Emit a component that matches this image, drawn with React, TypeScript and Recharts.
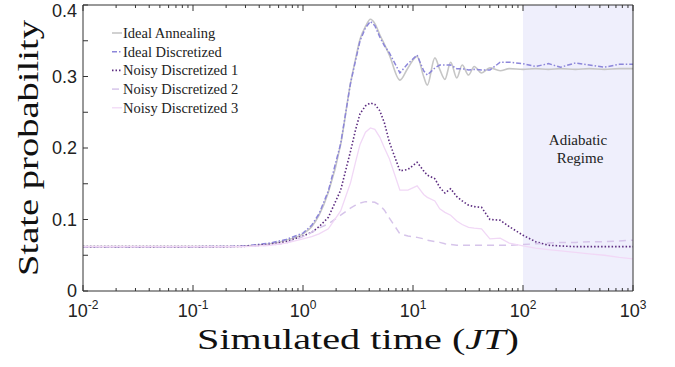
import React from 'react';
import { LineChart, Line, XAxis, YAxis, ReferenceArea, Legend } from 'recharts';

// simulated time JT, log-spaced samples
const times = [
  0.01, 0.02, 0.05, 0.1, 0.2, 0.3, 0.5, 0.7, 1, 1.2,
  1.4, 1.7, 2.2, 2.7, 3.0, 3.3, 3.7, 4.1, 4.5, 5,
  5.5, 6.1, 7.6, 9, 10.9, 12.5, 13.5, 15.8, 17.5, 19.5,
  22, 25, 28, 32, 36, 42, 50, 62, 75, 100,
  130, 170, 220, 300, 400, 550, 750, 1000,
];

const idealAnnealing = [
  0.062, 0.062, 0.062, 0.062, 0.0622, 0.063, 0.066, 0.071, 0.080, 0.090,
  0.106, 0.138, 0.205, 0.290, 0.324, 0.352, 0.370, 0.380, 0.374, 0.358,
  0.345, 0.330, 0.295, 0.312, 0.328, 0.300, 0.288, 0.326, 0.310, 0.296,
  0.320, 0.298, 0.316, 0.302, 0.314, 0.305, 0.312, 0.308, 0.311, 0.310,
  0.311, 0.310, 0.311, 0.310, 0.311, 0.310, 0.311, 0.311,
];

const idealDiscretized = [
  0.062, 0.062, 0.062, 0.062, 0.0622, 0.063, 0.067, 0.072, 0.081, 0.092,
  0.108, 0.140, 0.206, 0.290, 0.322, 0.350, 0.368, 0.377, 0.371, 0.355,
  0.343, 0.333, 0.305, 0.318, 0.330, 0.308, 0.302, 0.312, 0.316, 0.316,
  0.316, 0.311, 0.311, 0.309, 0.310, 0.309, 0.309, 0.320, 0.320, 0.318,
  0.314, 0.318, 0.313, 0.319, 0.316, 0.313, 0.317, 0.317,
];

const noisy1 = [
  0.062, 0.062, 0.062, 0.062, 0.062, 0.0625, 0.065, 0.069, 0.077, 0.082,
  0.090, 0.103, 0.141, 0.195, 0.225, 0.248, 0.259, 0.263, 0.261, 0.252,
  0.235, 0.208, 0.168, 0.170, 0.180, 0.168, 0.162, 0.157, 0.145, 0.137,
  0.143, 0.132, 0.126, 0.120, 0.118, 0.117, 0.100, 0.099, 0.090, 0.078,
  0.069, 0.064, 0.063, 0.062, 0.062, 0.062, 0.062, 0.062,
];

const noisy2 = [
  0.062, 0.062, 0.062, 0.062, 0.062, 0.0625, 0.064, 0.067, 0.076, 0.082,
  0.088, 0.094, 0.106, 0.116, 0.120, 0.123, 0.125, 0.125, 0.124, 0.120,
  0.113, 0.102, 0.080, 0.077, 0.075, 0.073, 0.071, 0.069, 0.068, 0.066,
  0.065, 0.064, 0.064, 0.064, 0.064, 0.064, 0.064, 0.064, 0.064, 0.065,
  0.066, 0.067, 0.068, 0.068, 0.069, 0.069, 0.070, 0.071,
];

const noisy3 = [
  0.062, 0.062, 0.062, 0.062, 0.062, 0.062, 0.064, 0.067, 0.073, 0.076,
  0.080, 0.087, 0.112, 0.151, 0.180, 0.205, 0.222, 0.228, 0.226, 0.215,
  0.200, 0.185, 0.141, 0.141, 0.147, 0.135, 0.131, 0.126, 0.115, 0.110,
  0.106, 0.098, 0.093, 0.089, 0.088, 0.087, 0.073, 0.074, 0.067, 0.063,
  0.060, 0.058, 0.056, 0.054, 0.052, 0.050, 0.047, 0.045,
];

const majorX = [0.01, 0.1, 1, 10, 100, 1000];
const xExponents = ['-2', '-1', '0', '1', '2', '3'];
const minorX = majorX.slice(0, -1).flatMap((d) => [2, 3, 4, 5, 6, 7, 8, 9].map((k) => k * d));
const xTicks = [...majorX, ...minorX].sort((a, b) => a - b);

const majorY = [0, 0.1, 0.2, 0.3, 0.4];
const yLabels = ['0', '0.1', '0.2', '0.3', '0.4'];
const yTicks = [0, 0.05, 0.1, 0.15, 0.2, 0.25, 0.3, 0.35, 0.4];

const series = [
  { key: 'ia', name: 'Ideal Annealing', color: '#c6c6c6', dash: undefined, width: 1.6, type: 'monotone' },
  { key: 'id', name: 'Ideal Discretized', color: '#8c86da', dash: '5 2 1.5 2', width: 1.5, type: 'linear' },
  { key: 'n1', name: 'Noisy Discretized 1', color: '#5c2c80', dash: '1.5 2', width: 1.6, type: 'linear' },
  { key: 'n2', name: 'Noisy Discretized 2', color: '#d6c4ea', dash: '7 5', width: 1.5, type: 'linear' },
  { key: 'n3', name: 'Noisy Discretized 3', color: '#f1d8f6', dash: undefined, width: 1.3, type: 'linear' },
];

const data = times.map((t, i) => ({
  t,
  ia: idealAnnealing[i],
  id: idealDiscretized[i],
  n1: noisy1[i],
  n2: noisy2[i],
  n3: noisy3[i],
}));

const AXIS = '#333';
const SANS = '"Liberation Sans", Arial, Helvetica, sans-serif';
const SERIF = '"Liberation Serif", "DejaVu Serif", serif';

const BottomTick = ({ x, y, payload }: any) => {
  const idx = majorX.indexOf(payload.value);
  const major = idx >= 0;
  return (
    <g>
      <line x1={x} x2={x} y1={y} y2={y - (major ? 6 : 3)} stroke={AXIS} />
      {major && (
        <text x={x} y={y + 26} textAnchor="middle" fontFamily={SANS} fontSize={18} fill="#222">
          <tspan>10</tspan>
          <tspan dy={-8} fontSize={12}>{xExponents[idx]}</tspan>
        </text>
      )}
    </g>
  );
};

const TopTick = ({ x, y, payload }: any) => {
  const major = majorX.includes(payload.value);
  return <line x1={x} x2={x} y1={y} y2={y + (major ? 6 : 3)} stroke={AXIS} />;
};

const LeftTick = ({ x, y, payload }: any) => {
  const idx = majorY.indexOf(payload.value);
  // the top label sits just inside the frame in the original
  const shift = idx === majorY.length - 1 ? 6 : 0;
  return (
    <g>
      <line x1={x} x2={x + 5} y1={y} y2={y} stroke={AXIS} />
      {idx >= 0 && (
        <text x={x - 6} y={y + shift} dy="0.36em" textAnchor="end" fontFamily={SANS} fontSize={18} fill="#222">
          {yLabels[idx]}
        </text>
      )}
    </g>
  );
};

const RightTick = ({ x, y }: any) => <line x1={x} x2={x - 5} y1={y} y2={y} stroke={AXIS} />;

const RegimeLabel = ({ viewBox }: any) => {
  const cx = viewBox.x + viewBox.width / 2;
  return (
    <text x={cx} y={145} textAnchor="middle" fontFamily={SERIF} fontSize={15} fill="#222">
      <tspan x={cx}>Adiabatic</tspan>
      <tspan x={cx + 2} dy={18}>Regime</tspan>
    </text>
  );
};

const renderLegend = () => (
  <svg width={160} height={100}>
    {series.map((s, i) => (
      <g key={s.key}>
        <line x1={0} x2={10} y1={9 + i * 18.7} y2={9 + i * 18.7} stroke={s.color} strokeWidth={s.width} strokeDasharray={s.dash} />
        <text x={11} y={14 + i * 18.7} fontFamily={SERIF} fontSize={14.5} fill="#222">{s.name}</text>
      </g>
    ))}
  </svg>
);

export default function App() {
  return (
    <div style={{ position: 'absolute', left: 0, top: 0, width: 675, height: 367, background: '#fff' }}>
      <LineChart width={675} height={367} data={data} margin={{ top: 4, right: 41, bottom: 0, left: 0 }}>
        <XAxis
          dataKey="t"
          type="number"
          scale="log"
          domain={[0.01, 1000]}
          allowDataOverflow
          ticks={xTicks}
          interval={0}
          height={76}
          tickSize={0}
          tickMargin={0}
          tickLine={false}
          stroke={AXIS}
          tick={<BottomTick />}
        />
        <XAxis
          xAxisId="top"
          orientation="top"
          dataKey="t"
          type="number"
          scale="log"
          domain={[0.01, 1000]}
          allowDataOverflow
          ticks={xTicks}
          interval={0}
          height={1}
          tickSize={0}
          tickMargin={0}
          tickLine={false}
          stroke={AXIS}
          tick={<TopTick />}
        />
        <YAxis
          type="number"
          domain={[0, 0.4]}
          ticks={yTicks}
          interval={0}
          width={83}
          tickSize={0}
          tickMargin={0}
          tickLine={false}
          stroke={AXIS}
          tick={<LeftTick />}
        />
        <YAxis
          yAxisId="right"
          orientation="right"
          type="number"
          domain={[0, 0.4]}
          ticks={yTicks}
          interval={0}
          width={1}
          tickSize={0}
          tickMargin={0}
          tickLine={false}
          stroke={AXIS}
          tick={<RightTick />}
        />
        <ReferenceArea x1={100} x2={1000} y1={0} y2={0.4} fill="#efeffc" fillOpacity={1} stroke="none" label={<RegimeLabel />} />
        {series.map((s) => (
          <Line
            key={s.key}
            dataKey={s.key}
            name={s.name}
            type={s.type as any}
            stroke={s.color}
            strokeWidth={s.width}
            strokeDasharray={s.dash}
            dot={false}
            activeDot={false}
            isAnimationActive={false}
          />
        ))}
        <Legend
          layout="vertical"
          align="center"
          verticalAlign="middle"
          wrapperStyle={{ left: 112, top: 24, width: 160 }}
          content={renderLegend}
        />
        <text
          transform="translate(38,148) rotate(-90)"
          textAnchor="middle"
          fontFamily={SERIF}
          fontSize={29}
          fill="#111"
          textLength={256}
          lengthAdjust="spacingAndGlyphs"
        >
          State probability
        </text>
        <text x={358} y={349} textAnchor="middle" fontFamily={SERIF} fontSize={29} fill="#111" textLength={322} lengthAdjust="spacingAndGlyphs">
          Simulated time (<tspan fontStyle="italic">JT</tspan>)
        </text>
      </LineChart>
    </div>
  );
}
